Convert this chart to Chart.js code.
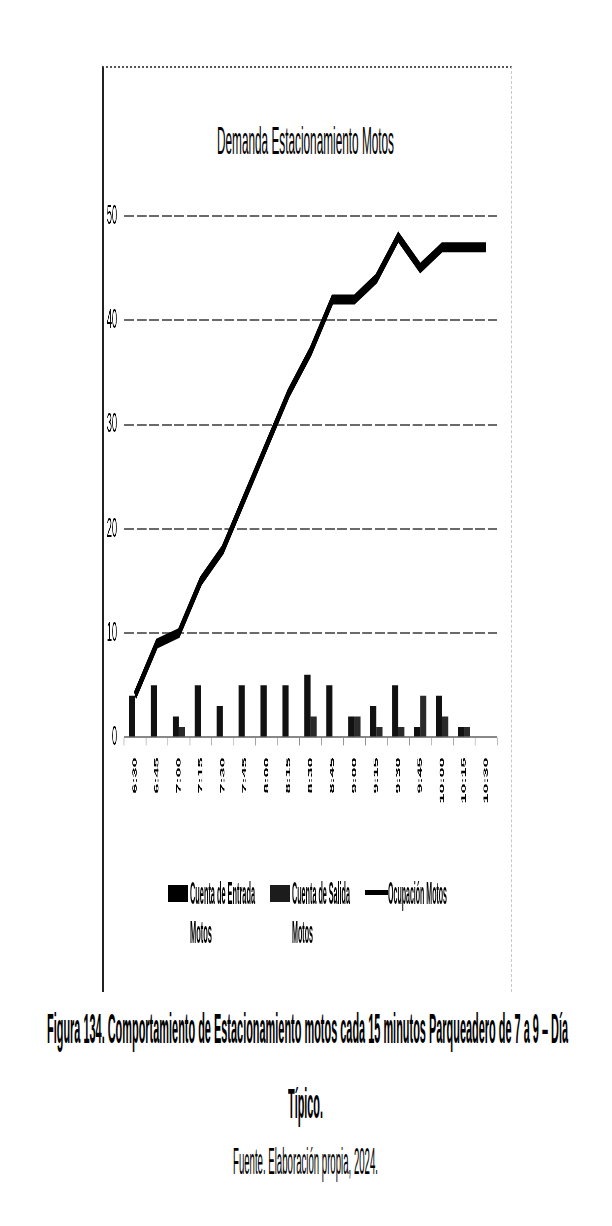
<!DOCTYPE html>
<html lang="es">
<head>
<meta charset="utf-8">
<title>Demanda Estacionamiento Motos</title>
<script src="https://cdn.jsdelivr.net/npm/chart.js@4.4.1/dist/chart.umd.min.js"></script>
<style>
  html, body { margin: 0; padding: 0; background: #fff; }
  body { width: 612px; height: 1226px; position: relative; overflow: hidden;
         font-family: "Liberation Sans", Arial, sans-serif; color: #000; }
  #frame { position: absolute; left: 102px; top: 66px; width: 407px; height: 924px;
           border-left: 2px solid #222; border-top: 2px dotted #555; border-right: 1px dashed #c8c8c8; }
  .fit { position: absolute; white-space: nowrap; transform-origin: 0 0; }
  #title   { top: 122px; font-size: 38px; line-height: 38px; }
  #cap1    { top: 991px; font-size: 42px; line-height: 75px; font-weight: bold; }
  #cap2    { top: 1066px; font-size: 42px; line-height: 75px; font-weight: bold; }
  #fuente  { top: 1144px; font-size: 36px; line-height: 36px; }
  .leg     { font-size: 31px; line-height: 31px; font-weight: bold; }
  .sw      { position: absolute; background: #000; }
  /* the whole figure is squeezed sideways, as in the scanned page */
  #wrap { position: absolute; left: 104px; top: 190px; width: 1230px; height: 800px;
          transform: scaleX(0.33); transform-origin: 0 0; }
  #wrap canvas { display: block; }
</style>
</head>
<body>
<div id="frame"></div>
<div id="title" class="fit" data-cx="305" data-w="177">Demanda Estacionamiento Motos</div>
<div id="wrap"><canvas id="chart" width="1230" height="800"></canvas></div>

<div class="sw" style="left:168px; top:885px; width:20px; height:17px"></div>
<div class="fit leg" style="top:878px" data-x="190" data-w="65">Cuenta de Entrada</div>
<div class="fit leg" style="top:917px" data-x="190" data-w="22">Motos</div>
<div class="sw" style="left:270px; top:885px; width:20px; height:17px; background:#1c1c1c"></div>
<div class="fit leg" style="top:878px" data-x="292" data-w="58">Cuenta de Salida</div>
<div class="fit leg" style="top:917px" data-x="292" data-w="21">Motos</div>
<div class="sw" style="left:365px; top:890px; width:23px; height:5px"></div>
<div class="fit leg" style="top:878px" data-x="388" data-w="59">Ocupación Motos</div>

<div id="cap1" class="fit" data-cx="307" data-w="521">Figura 134. Comportamiento de Estacionamiento motos cada 15 minutos Parqueadero de 7 a 9 – Día</div>
<div id="cap2" class="fit" data-cx="305" data-w="35">Típico.</div>
<div id="fuente" class="fit" data-cx="305" data-w="145">Fuente. Elaboración propia, 2024.</div>

<script>
// time slots every 15 minutes
const horas = ["6:30", "6:45", "7:00", "7:15", "7:30", "7:45", "8:00", "8:15", "8:30",
               "8:45", "9:00", "9:15", "9:30", "9:45", "10:00", "10:15", "10:30"]
// motorcycles in / out per slot, and accumulated occupancy
const entradaMotos = [4, 5, 2, 5, 3, 5, 5, 5, 6, 5, 2, 3, 5, 1, 4, 1, 0]
const salidaMotos = [0, 0, 1, 0, 0, 0, 0, 0, 2, 0, 2, 1, 1, 4, 2, 1, 0]
const ocupacionMotos = [4, 9, 10, 15, 18, 23, 28, 33, 37, 42, 42, 44, 48, 45, 47, 47, 47]
const yTicks = [0, 10, 20, 30, 40, 50]

// squeeze the html text lines to the widths they have in the page
document.querySelectorAll(".fit").forEach((el) => {
  const w = el.getBoundingClientRect().width
  const target = +el.dataset.w
  const left = el.dataset.x !== undefined ? +el.dataset.x : +el.dataset.cx - target / 2
  el.style.left = left + "px"
  el.style.transform = "scaleX(" + (target / w) + ")"
})

const font = "'Liberation Sans', Arial, sans-serif"

const chart = new Chart(document.getElementById("chart"), {
  type: "bar",
  data: {
    labels: horas,
    datasets: [
      { label: "Cuenta de Entrada Motos", data: entradaMotos, backgroundColor: "#111",
        categoryPercentage: 0.56, barPercentage: 1, order: 1 },
      { label: "Cuenta de Salida Motos", data: salidaMotos, backgroundColor: "#2a2a2a",
        categoryPercentage: 0.56, barPercentage: 1, order: 1 },
      { type: "line", label: "Ocupación Motos", data: ocupacionMotos, borderColor: "#000",
        backgroundColor: "#000", borderWidth: 10, pointRadius: 0, tension: 0, order: 0 }
    ]
  },
  options: {
    responsive: false,
    animation: false,
    devicePixelRatio: 1,
    layout: { padding: { top: 26, right: 39, left: 0, bottom: 140 } },
    scales: {
      x: {
        afterFit: (s) => { s.height = 112 },
        grid: { drawOnChartArea: false, drawTicks: true, tickLength: 8, color: "#888", tickWidth: 2 },
        border: { display: true, color: "#888", width: 2 },
        ticks: { minRotation: 90, maxRotation: 90, padding: 12, color: "#000",
                 font: { family: font, size: 18, weight: "bold" } }
      },
      y: {
        min: 0,
        max: 50,
        afterFit: (s) => { s.width = 60.6 },
        afterBuildTicks: (s) => { s.ticks = yTicks.map((v) => ({ value: v })) },
        grid: { color: "#6a6a6a", lineWidth: 2, drawTicks: false },
        border: { display: false, dash: [30, 8] },
        ticks: { padding: 21, color: "#000", font: { family: font, size: 28, lineHeight: 0.2 } }
      }
    },
    plugins: {
      title: { display: false },
      tooltip: { enabled: false },
      legend: { display: false }
    }
  }
})

// pin the plot area to where it sits on the page (0 at y=737, 50 at y=216)
const ca = chart.chartArea
const pad = chart.options.layout.padding
pad.top += 26 - ca.top
pad.bottom += ca.bottom - 547.4
chart.update()
</script>
</body>
</html>
